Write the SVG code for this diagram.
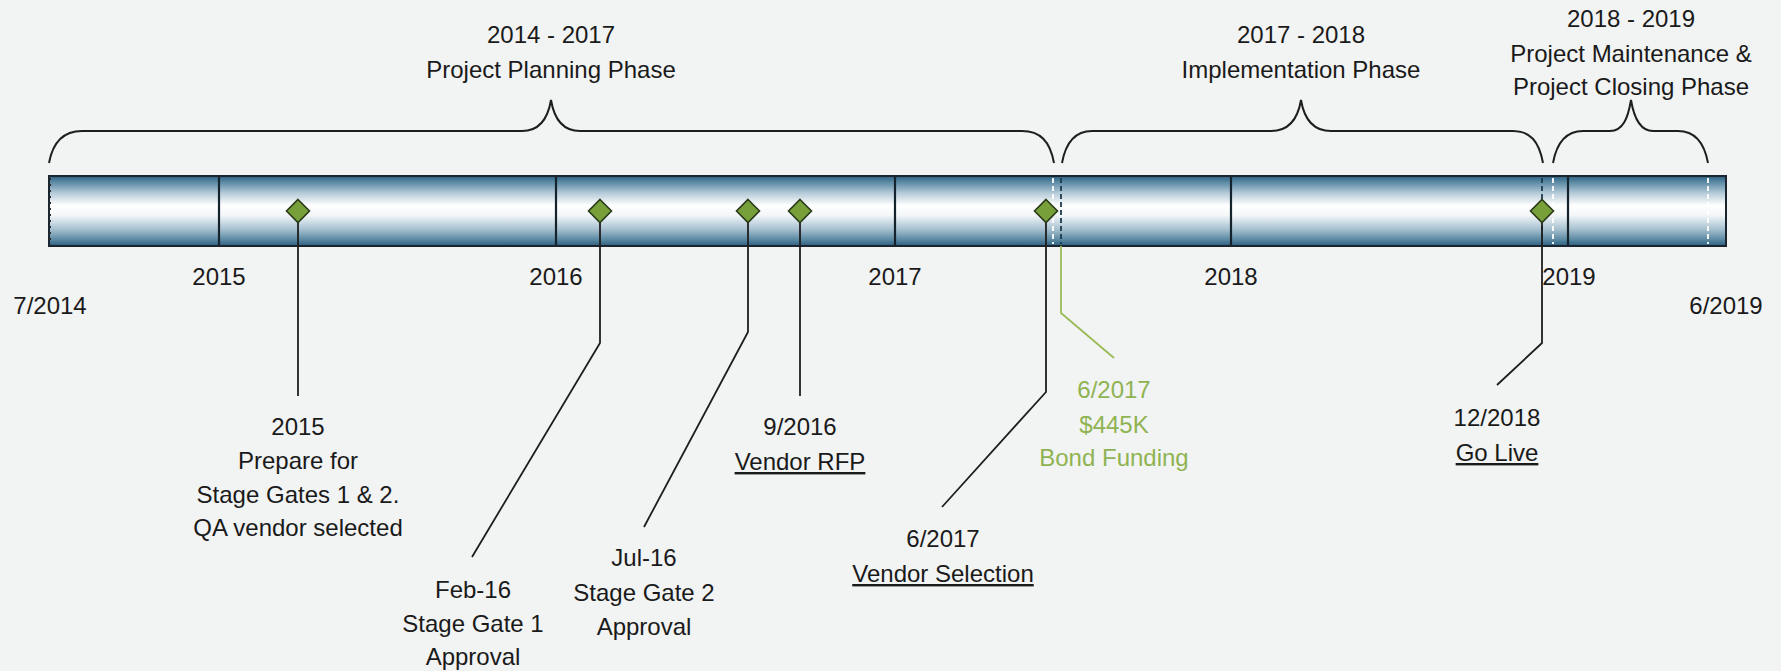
<svg xmlns="http://www.w3.org/2000/svg" width="1781" height="671" viewBox="0 0 1781 671">
  <defs>
    <!-- cylinder shading for the timeline bar -->
    <linearGradient id="barShade" x1="0" y1="0" x2="0" y2="1">
      <stop offset="0" stop-color="#2d5f80"/>
      <stop offset="0.08" stop-color="#5786a1"/>
      <stop offset="0.25" stop-color="#b7cdda"/>
      <stop offset="0.42" stop-color="#ffffff"/>
      <stop offset="0.56" stop-color="#f3f7f9"/>
      <stop offset="0.76" stop-color="#a7c1d0"/>
      <stop offset="0.92" stop-color="#55849f"/>
      <stop offset="1" stop-color="#2b5d7d"/>
    </linearGradient>
    <style>
      text { font-family: "Liberation Sans", Arial, sans-serif; font-size: 24px; fill: #1a1a1a; text-anchor: middle; }
      .green { fill: #8fb352; }
      .ul { text-decoration: underline; }
      .brace { fill: none; stroke: #1e1e1e; stroke-width: 2; }
      .leader { fill: none; stroke: #1e1e1e; stroke-width: 1.8; }
      .leader-green { fill: none; stroke: #9bbb59; stroke-width: 1.8; }
      .divider { stroke: #15232d; stroke-width: 2.2; }
      .dash-dark { stroke: #1d3a4e; stroke-width: 1.8; stroke-dasharray: 5 3; }
      .dash-white { stroke: #ffffff; stroke-width: 1.8; stroke-dasharray: 5 3; }
      .milestone { fill: #77a03b; stroke: #2a3a18; stroke-width: 1.6; }
    </style>
  </defs>

  <rect x="0" y="0" width="1781" height="671" fill="#f2f3f3"/>

  <!-- phase headings with braces -->
  <g id="phase-planning">
    <path class="brace" d="M49,163 C53,141 64,131 82,131 L522,131 C540,131 548,118 551,100 C554,118 562,131 580,131 L1022,131 C1040,131 1050,141 1054,163"/>
    <text x="551" y="43">2014 - 2017</text>
    <text x="551" y="78">Project Planning Phase</text>
  </g>
  <g id="phase-implementation">
    <path class="brace" d="M1062,163 C1066,141 1076,131 1092,131 L1271,131 C1289,131 1298,118 1301,100 C1304,118 1313,131 1331,131 L1513,131 C1530,131 1539,141 1543,163"/>
    <text x="1301" y="43">2017 - 2018</text>
    <text x="1301" y="78">Implementation Phase</text>
  </g>
  <g id="phase-closing">
    <path class="brace" d="M1553,163 C1557,141 1567,131 1583,131 L1610,131 C1623,131 1628,118 1631,100 C1634,118 1640,131 1653,131 L1678,131 C1694,131 1704,141 1708,163"/>
    <text x="1631" y="27">2018 - 2019</text>
    <text x="1631" y="62">Project Maintenance &amp;</text>
    <text x="1631" y="95">Project Closing Phase</text>
  </g>

  <!-- timeline bar -->
  <g id="timeline-bar">
    <rect x="49" y="176" width="1677" height="70" fill="url(#barShade)" stroke="#1a2530" stroke-width="2"/>
    <line x1="50" y1="178" x2="50" y2="244" stroke="#2a2a2a" stroke-width="2" stroke-dasharray="2 4"/>
    <line class="divider" x1="219" y1="177" x2="219" y2="245"/>
    <line class="divider" x1="556" y1="177" x2="556" y2="245"/>
    <line class="divider" x1="895" y1="177" x2="895" y2="245"/>
    <line class="divider" x1="1231" y1="177" x2="1231" y2="245"/>
    <line class="divider" x1="1568" y1="177" x2="1568" y2="245"/>
    <line class="dash-white" x1="1053" y1="178" x2="1053" y2="244"/>
    <line class="dash-dark" x1="1061" y1="178" x2="1061" y2="244"/>
    <line class="dash-dark" x1="1542" y1="178" x2="1542" y2="244"/>
    <line class="dash-white" x1="1553" y1="178" x2="1553" y2="244"/>
    <line class="dash-white" x1="1708" y1="178" x2="1708" y2="244"/>
  </g>

  <!-- year ticks -->
  <g id="year-labels">
    <text x="50" y="314">7/2014</text>
    <text x="219" y="285">2015</text>
    <text x="556" y="285">2016</text>
    <text x="895" y="285">2017</text>
    <text x="1231" y="285">2018</text>
    <text x="1569" y="285">2019</text>
    <text x="1726" y="314">6/2019</text>
  </g>

  <!-- leader lines from milestones to their notes -->
  <g id="connectors">
    <path class="leader" d="M298,222 V396"/>
    <path class="leader" d="M600,222 V343 L472,557"/>
    <path class="leader" d="M748,222 V332 L644,527"/>
    <path class="leader" d="M800,222 V396"/>
    <path class="leader" d="M1046,222 V392 L942,507"/>
    <path class="leader-green" d="M1061,246 V313 L1114,358"/>
    <path class="leader" d="M1542,222 V343 L1497,385"/>
  </g>

  <!-- milestones -->
  <g id="m-2015">
    <path class="milestone" d="M298,199.5 L309.5,211 L298,222.5 L286.5,211 Z"/>
    <text x="298" y="435">2015</text>
    <text x="298" y="469">Prepare for</text>
    <text x="298" y="503">Stage Gates 1 &amp; 2.</text>
    <text x="298" y="536">QA vendor selected</text>
  </g>
  <g id="m-feb16">
    <path class="milestone" d="M600,199.5 L611.5,211 L600,222.5 L588.5,211 Z"/>
    <text x="473" y="598">Feb-16</text>
    <text x="473" y="632">Stage Gate 1</text>
    <text x="473" y="665">Approval</text>
  </g>
  <g id="m-jul16">
    <path class="milestone" d="M748,199.5 L759.5,211 L748,222.5 L736.5,211 Z"/>
    <text x="644" y="566">Jul-16</text>
    <text x="644" y="601">Stage Gate 2</text>
    <text x="644" y="635">Approval</text>
  </g>
  <g id="m-sep16">
    <path class="milestone" d="M800,199.5 L811.5,211 L800,222.5 L788.5,211 Z"/>
    <text x="800" y="435">9/2016</text>
    <text x="800" y="470" class="ul">Vendor RFP</text>
  </g>
  <g id="m-jun17">
    <path class="milestone" d="M1046,199.5 L1057.5,211 L1046,222.5 L1034.5,211 Z"/>
    <text x="943" y="547">6/2017</text>
    <text x="943" y="582" class="ul">Vendor Selection</text>
  </g>
  <g id="m-bond">
    <text x="1114" y="398" class="green">6/2017</text>
    <text x="1114" y="433" class="green">$445K</text>
    <text x="1114" y="466" class="green">Bond Funding</text>
  </g>
  <g id="m-golive">
    <path class="milestone" d="M1542,199.5 L1553.5,211 L1542,222.5 L1530.5,211 Z"/>
    <text x="1497" y="426">12/2018</text>
    <text x="1497" y="461" class="ul">Go Live</text>
  </g>
</svg>
